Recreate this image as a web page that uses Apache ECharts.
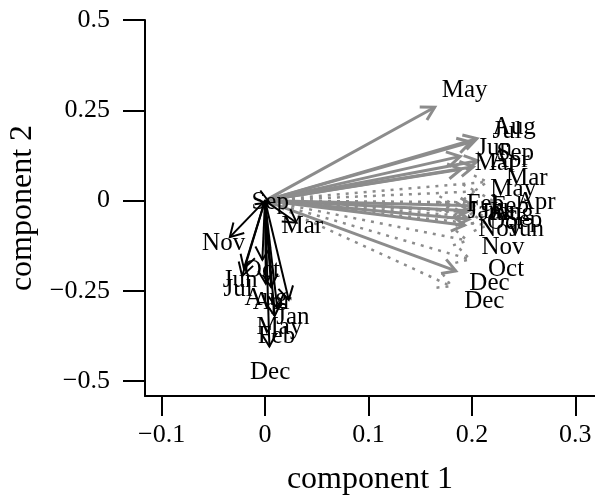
<!DOCTYPE html>
<html>
<head>
<meta charset="utf-8">
<script src="https://cdn.jsdelivr.net/npm/echarts@6/dist/echarts.min.js"></script>
<style>
  html, body { margin: 0; padding: 0; background: #fff; }
  #chart { width: 595px; height: 497px; }
</style>
</head>
<body>
<div id="chart"></div>
<script>
// month labels, one per arrow
const months = ['Jan', 'Feb', 'Mar', 'Apr', 'May', 'Jun', 'Jul', 'Aug', 'Sep', 'Oct', 'Nov', 'Dec'];

// grey solid arrows (label positions)
const solidX = [0.232, 0.237, 0.223, 0.237, 0.193, 0.222, 0.234, 0.241, 0.242, 0.232, 0.227, 0.217];
const solidY = [-0.033, -0.017, 0.102, 0.110, 0.304, 0.144, 0.191, 0.202, 0.130, -0.061, -0.080, -0.229];

// grey dotted arrows
const dottedX = [0.212, 0.213, 0.253, 0.262, 0.240, 0.253, 0.222, 0.239, 0.250, 0.233, 0.230, 0.212];
const dottedY = [-0.030, -0.011, 0.061, -0.006, 0.030, -0.080, -0.036, -0.036, -0.055, -0.191, -0.130, -0.279];

// black arrows
const blackX = [0.027, 0.011, 0.036, 0.007, 0.014, -0.024, -0.026, 0.001, 0.005, -0.003, -0.040, 0.005];
const blackY = [-0.323, -0.376, -0.072, -0.282, -0.351, -0.221, -0.246, -0.271, -0.006, -0.193, -0.119, -0.475];

const xTicks = [-0.1, 0, 0.1, 0.2, 0.3];
const yTicks = [-0.5, -0.25, 0, 0.25, 0.5];

const ARROW = 0.85;   // arrows stop short of their labels, like biplot()
const FONT = 'Liberation Serif';

function toData(xs, ys) {
    return xs.map((v, i) => [v, ys[i], months[i]]);
}

function fmt(v) {
    if (v === 0) return '0';
    return (v < 0 ? '\u2212' : '') + String(Math.abs(v));
}

function arrowSeries(xs, ys, color, width, dash) {
    return {
        type: 'custom',
        data: toData(xs, ys),
        encode: { x: 0, y: 1 },
        silent: true,
        clip: false,
        renderItem: function (params, api) {
            const p0 = api.coord([0, 0]);
            const p1 = api.coord([api.value(0) * ARROW, api.value(1) * ARROW]);
            const ang = Math.atan2(p1[1] - p0[1], p1[0] - p0[0]);
            const L = 15, a = Math.PI / 6;
            const h1 = [p1[0] - L * Math.cos(ang - a), p1[1] - L * Math.sin(ang - a)];
            const h2 = [p1[0] - L * Math.cos(ang + a), p1[1] - L * Math.sin(ang + a)];
            const style = { stroke: color, lineWidth: width, lineDash: dash, fill: null };
            return {
                type: 'group',
                children: [
                    { type: 'line', shape: { x1: p0[0], y1: p0[1], x2: p1[0], y2: p1[1] }, style: style },
                    { type: 'polyline', shape: { points: [h1, p1, h2] }, style: style }
                ]
            };
        }
    };
}

function labelSeries(xs, ys) {
    return {
        type: 'custom',
        data: toData(xs, ys),
        encode: { x: 0, y: 1 },
        silent: true,
        clip: false,
        renderItem: function (params, api) {
            const p = api.coord([api.value(0), api.value(1)]);
            return {
                type: 'text',
                x: p[0],
                y: p[1],
                style: {
                    text: api.value(2),
                    fontSize: 25,
                    fontFamily: FONT,
                    fill: '#000',
                    align: 'center',
                    verticalAlign: 'middle'
                }
            };
        }
    };
}

const chart = echarts.init(document.getElementById('chart'), null, { renderer: 'canvas' });

const option = {
    animation: false,
    backgroundColor: '#fff',
    grid: { left: 145, right: 0, top: 20, bottom: 101, containLabel: false, outerBoundsMode: 'none' },
    xAxis: {
        type: 'value',
        min: -0.116,
        max: 0.319,
        name: 'component 1',
        nameLocation: 'middle',
        nameGap: 68,
        nameTextStyle: { fontSize: 32, fontFamily: FONT, color: '#000' },
        splitLine: { show: false },
        axisLine: { show: true, onZero: false, lineStyle: { color: '#000', width: 2 } },
        axisTick: { show: true, length: 20, customValues: xTicks, lineStyle: { color: '#000', width: 2 } },
        axisLabel: { customValues: xTicks, fontSize: 26, fontFamily: FONT, color: '#000', margin: 26, formatter: fmt }
    },
    yAxis: {
        type: 'value',
        min: -0.541,
        max: 0.5,
        name: 'component 2',
        nameLocation: 'middle',
        nameGap: 106,
        nameRotate: 90,
        nameTextStyle: { fontSize: 32, fontFamily: FONT, color: '#000' },
        splitLine: { show: false },
        axisLine: { show: true, onZero: false, lineStyle: { color: '#000', width: 2 } },
        axisTick: { show: true, length: 22, customValues: yTicks, lineStyle: { color: '#000', width: 2 } },
        axisLabel: { customValues: yTicks, fontSize: 26, fontFamily: FONT, color: '#000', margin: 35, formatter: fmt }
    },
    series: [
        arrowSeries(dottedX, dottedY, '#8c8c8c', 2.5, [3, 6]),
        arrowSeries(solidX, solidY, '#8c8c8c', 3, null),
        arrowSeries(blackX, blackY, '#000', 2, null),
        labelSeries(dottedX, dottedY),
        labelSeries(solidX, solidY),
        labelSeries(blackX, blackY)
    ]
};

chart.setOption(option);
</script>
</body>
</html>
